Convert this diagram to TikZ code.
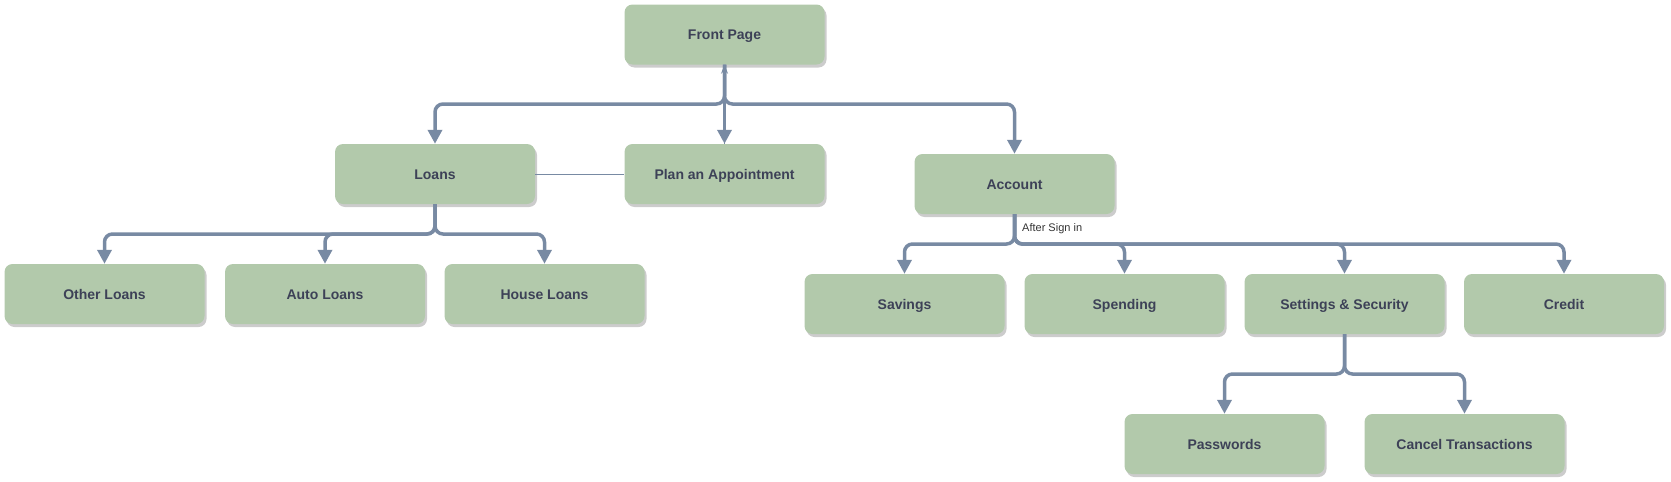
\documentclass[tikz,border=0pt]{standalone}
\usepackage{fontspec}
\setmainfont{Liberation Sans}
\usetikzlibrary{arrows.meta,shadows,calc}
\definecolor{boxfill}{HTML}{B2C9AB}
\definecolor{linec}{HTML}{788AA3}
\definecolor{textc}{HTML}{3D4157}
\definecolor{labelc}{HTML}{333333}
\tikzset{
  box/.style={rectangle, rounded corners=8pt, fill=boxfill, draw=none,
    minimum width=200pt, minimum height=60pt, inner sep=0pt,
    text height=10pt, text depth=0pt,
    text=textc, font=\bfseries\fontsize{14}{16}\selectfont,
    drop shadow={shadow xshift=2pt, shadow yshift=-3pt, opacity=0.2, fill=black}},
  conn/.style={draw=linec, line width=3.5pt, rounded corners=8pt,
    -{Triangle[width=14pt,length=14pt]}},
  thinconn/.style={draw=linec, line width=1pt},
  lbl/.style={text=labelc, font=\fontsize{11}{13}\selectfont, inner sep=0pt, anchor=west}
}
\begin{document}
\begin{tikzpicture}[x=1pt,y=-1pt]
\useasboundingbox (0,0) rectangle (1671,482);
\node[box] (front) at (724.5,34.5) {Front Page};
\node[box] (loans) at (435,174) {Loans};
\node[box] (plan) at (724.5,174) {Plan an Appointment};
\node[box] (account) at (1014.5,184) {Account};
\node[box] (other) at (104.5,294) {Other Loans};
\node[box] (auto) at (325,294) {Auto Loans};
\node[box] (house) at (544.5,294) {House Loans};
\node[box] (savings) at (904.5,304) {Savings};
\node[box] (spending) at (1124.5,304) {Spending};
\node[box] (settings) at (1344.5,304) {Settings \& Security};
\node[box] (credit) at (1564,304) {Credit};
\node[box] (passwords) at (1224.5,444) {Passwords};
\node[box] (cancel) at (1464.5,444) {Cancel Transactions};
% thin links
\draw[thinconn] (loans.east) -- (plan.west);
\draw[thinconn, -{Stealth[width=7pt,length=9pt]}] (plan.north) -- (front.south);
% front page tree
\draw[conn] (front.south) -- (front.south |- 0,104) -| (loans.north);
\draw[conn] (front.south) -- (plan.north);
\draw[conn] (front.south) -- (front.south |- 0,104) -| (account.north);
% loans tree
\foreach \t in {other,auto,house}
  \draw[conn] (loans.south) -- (loans.south |- 0,234) -| (\t.north);
% account tree
\foreach \t in {savings,spending,settings,credit}
  \draw[conn] (account.south) -- (account.south |- 0,244) -| (\t.north);
\node[lbl] (after) at (1022,229) {After Sign in};
% settings tree
\foreach \t in {passwords,cancel}
  \draw[conn] (settings.south) -- (settings.south |- 0,374) -| (\t.north);
\end{tikzpicture}
\end{document}
